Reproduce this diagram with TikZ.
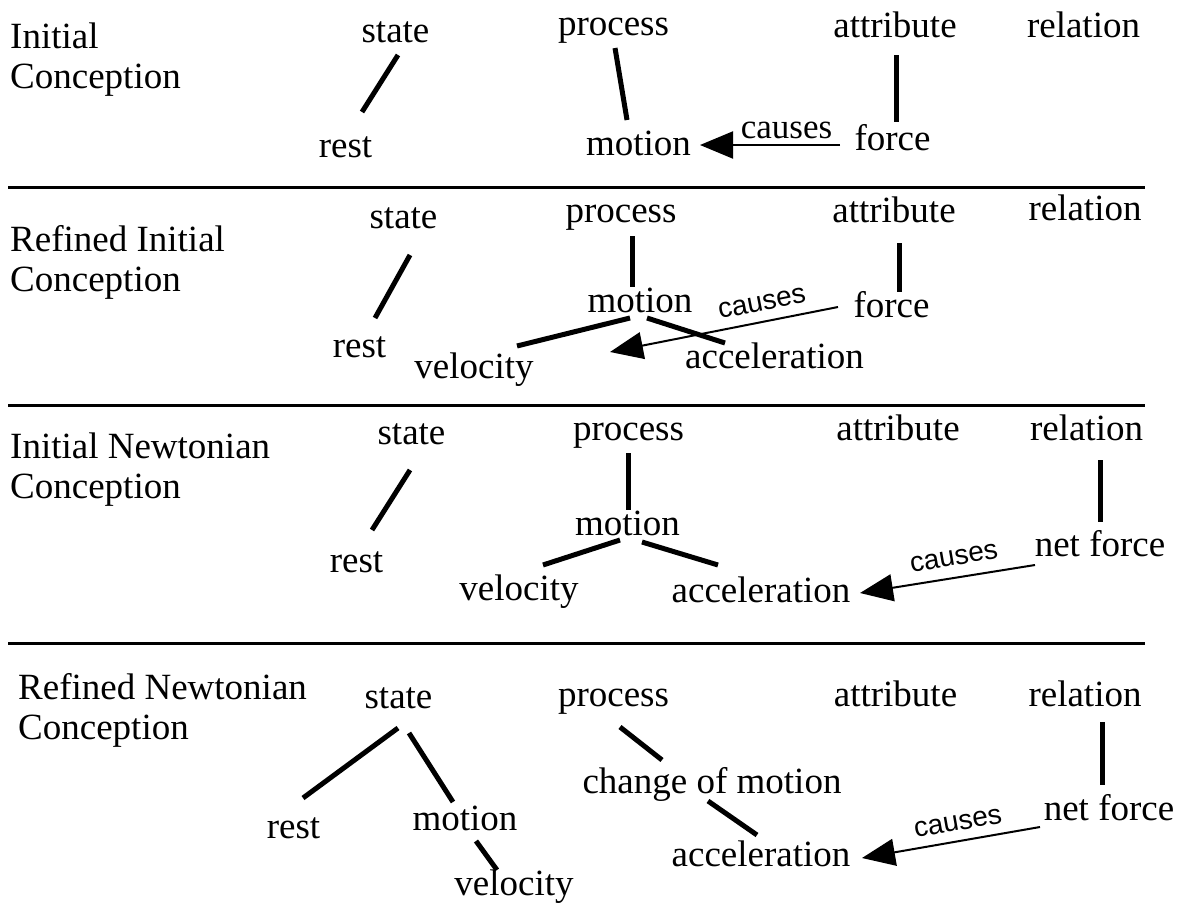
\documentclass[tikz,border=0pt]{standalone}
\usepackage{fontspec}
\setmainfont{Liberation Serif}
\newfontfamily\causefont{Liberation Sans}
\usetikzlibrary{arrows.meta}
\begin{document}
\begin{tikzpicture}[x=1pt,y=-1pt,
  lbl/.style={inner sep=0pt, anchor=base, font=\fontsize{37}{40}\selectfont},
  ttl/.style={inner sep=0pt, anchor=north west, align=left, font=\fontsize{37}{40}\selectfont},
  thk/.style={line width=5pt},
  sepline/.style={line width=3pt},
  cza/.style={inner sep=0pt, anchor=base, font=\fontsize{35}{38}\selectfont},
  czb/.style={inner sep=0pt, font=\causefont\fontsize{28}{30}\selectfont},
  arr/.style={line width=2pt, -{Triangle[length=33pt,width=27pt]}}]
\useasboundingbox[fill=white] (0,0) rectangle (1188,902);

% ---------- Panel 1
\node[ttl] (t1) at (10,23) {Initial\\Conception};
\node[lbl] (s1) at (395.5,42) {state};
\node[lbl] (p1) at (613.5,35) {process};
\node[lbl] (a1) at (895,37) {attribute};
\node[lbl] (rl1) at (1083.5,37) {relation};
\node[lbl] (r1) at (345.5,157) {rest};
\node[lbl] (m1) at (638.5,155) {motion};
\node[lbl] (f1) at (892.5,150) {force};
\draw[thk] ([shift={(2.5,13)}]s1.base) -- ([shift={(16.5,-45)}]r1.base);
\draw[thk] ([shift={(1.5,13)}]p1.base) -- ([shift={(-11.5,-35)}]m1.base);
\draw[thk] ([shift={(1,18)}]a1.base) -- ([shift={(3.5,-28)}]f1.base);
\draw[arr] ([shift={(-52.5,-5)}]f1.base) -- ([shift={(61.5,-10)}]m1.base);
\node[cza] (c1) at (786.5,138) {causes};
\draw[sepline] (8,187) -- (1145,187);

% ---------- Panel 2
\node[ttl] (t2) at (10,225) {Refined Initial\\Conception};
\node[lbl] (s2) at (403.5,228) {state};
\node[lbl] (p2) at (621,222) {process};
\node[lbl] (a2) at (894,222) {attribute};
\node[lbl] (rl2) at (1085,220) {relation};
\node[lbl] (r2) at (359.5,357) {rest};
\node[lbl] (m2) at (640,312) {motion};
\node[lbl] (f2) at (891.5,317) {force};
\node[lbl] (v2) at (474,378) {velocity};
\node[lbl] (ac2) at (774.5,368) {acceleration};
\draw[thk] ([shift={(6.5,27)}]s2.base) -- ([shift={(15.5,-39)}]r2.base);
\draw[thk] ([shift={(11,14)}]p2.base) -- ([shift={(-8,-25)}]m2.base);
\draw[thk] ([shift={(5,21)}]a2.base) -- ([shift={(7.5,-25)}]f2.base);
\draw[thk] ([shift={(-10,6)}]m2.base) -- ([shift={(43,-32)}]v2.base);
\draw[thk] ([shift={(7,6)}]m2.base) -- ([shift={(-49.5,-25)}]ac2.base);
\draw[arr] ([shift={(-53.5,-10)}]f2.base) -- ([shift={(136,-26)}]v2.base);
\node[czb, rotate=11] (c2) at (762,303) {causes};
\draw[sepline] (8,405) -- (1145,405);

% ---------- Panel 3
\node[ttl] (t3) at (10,433) {Initial Newtonian\\Conception};
\node[lbl] (s3) at (411.5,444) {state};
\node[lbl] (p3) at (628.5,440) {process};
\node[lbl] (a3) at (898,440) {attribute};
\node[lbl] (rl3) at (1086.5,440) {relation};
\node[lbl] (r3) at (356.5,572) {rest};
\node[lbl] (m3) at (627.5,535) {motion};
\node[lbl] (v3) at (519,600) {velocity};
\node[lbl] (ac3) at (761,602) {acceleration};
\node[lbl] (nf3) at (1100,556) {net force};
\draw[thk] ([shift={(-1.5,26)}]s3.base) -- ([shift={(15.5,-42)}]r3.base);
\draw[thk] ([shift={(-0.5,13)}]p3.base) -- ([shift={(0.5,-25)}]m3.base);
\draw[thk] ([shift={(13.5,20)}]rl3.base) -- ([shift={(0,-34)}]nf3.base);
\draw[thk] ([shift={(-7.5,5)}]m3.base) -- ([shift={(24,-35)}]v3.base);
\draw[thk] ([shift={(14.5,7)}]m3.base) -- ([shift={(-43,-37)}]ac3.base);
\draw[arr] ([shift={(-65,9)}]nf3.base) -- ([shift={(99,-9)}]ac3.base);
\node[czb, rotate=10] (c3) at (954,558) {causes};
\draw[sepline] (8,643) -- (1145,643);

% ---------- Panel 4
\node[ttl] (t4) at (18,673) {Refined Newtonian\\Conception};
\node[lbl] (s4) at (398.5,708) {state};
\node[lbl] (p4) at (613.5,706) {process};
\node[lbl] (a4) at (895.5,706) {attribute};
\node[lbl] (rl4) at (1085,706) {relation};
\node[lbl] (r4) at (293.5,838) {rest};
\node[lbl] (m4) at (465,830) {motion};
\node[lbl] (v4) at (514,895) {velocity};
\node[lbl] (ch4) at (712,793) {change of motion};
\node[lbl] (ac4) at (761,866) {acceleration};
\node[lbl] (nf4) at (1109,820) {net force};
\draw[thk] ([shift={(-0.5,20)}]s4.base) -- ([shift={(9.5,-40)}]r4.base);
\draw[thk] ([shift={(10.5,25)}]s4.base) -- ([shift={(-12,-28)}]m4.base);
\draw[thk] ([shift={(11,11)}]m4.base) -- ([shift={(-17,-25)}]v4.base);
\draw[thk] ([shift={(6.5,21)}]p4.base) -- ([shift={(-50,-33)}]ch4.base);
\draw[thk] ([shift={(-4,8)}]ch4.base) -- ([shift={(-4,-31)}]ac4.base);
\draw[thk] ([shift={(17,16)}]rl4.base) -- ([shift={(-7,-35)}]nf4.base);
\draw[arr] ([shift={(-69,7)}]nf4.base) -- ([shift={(101,-8)}]ac4.base);
\node[czb, rotate=10] (c4) at (958,823) {causes};
\end{tikzpicture}
\end{document}
